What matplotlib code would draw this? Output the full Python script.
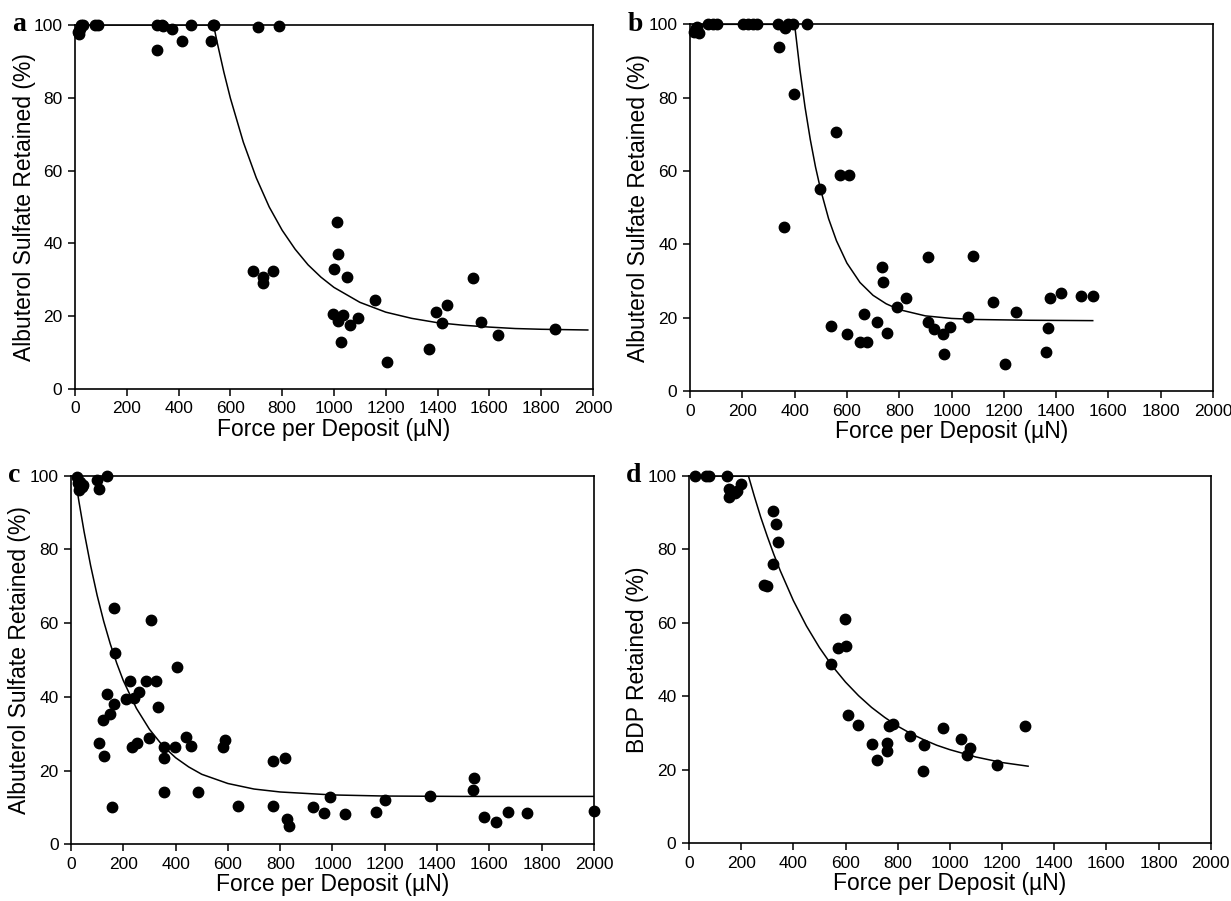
import numpy as np
import matplotlib
matplotlib.use("Agg")
import matplotlib.pyplot as plt

plt.rcParams['font.family'] = ['Liberation Sans', 'DejaVu Sans']

# ---- panel a : albuterol sulfate ----
a_x = [10, 15, 20, 25, 30, 77, 90, 318, 318, 335, 341, 376, 412, 448, 524, 532, 538,
       708, 789, 686, 727, 727, 763,
       1013, 1015, 1000, 1049, 1160, 997, 1015, 1036, 1062, 1094, 1026, 1203,
       1365, 1395, 1436, 1419, 1538, 1568, 1632, 1853]
a_y = [98, 97.5, 99, 100, 100, 100, 100, 93.1, 100, 100, 99.6, 98.9, 95.7, 100, 95.7, 100, 100,
       99.4, 99.7, 32.5, 30.7, 29.2, 32.5,
       45.8, 37.0, 32.9, 30.8, 24.5, 20.6, 18.8, 20.3, 17.6, 19.4, 13.0, 7.5,
       10.9, 21.1, 23.1, 18.0, 30.6, 18.5, 14.7, 16.4]
a_fit_x = [10, 535, 550, 575, 600, 650, 700, 750, 800, 850, 900, 950, 1000, 1100, 1200,
           1300, 1400, 1500, 1600, 1700, 1800, 1980]
a_fit_y = [100, 100, 94.9, 87.0, 79.9, 67.8, 58.0, 50.0, 43.6, 38.4, 34.1, 30.7, 27.9, 23.8,
           21.1, 19.4, 18.2, 17.5, 17.0, 16.6, 16.4, 16.2]

# ---- panel b : albuterol sulfate ----
b_x = [15, 25, 36, 23, 70, 89, 102, 204, 223, 242, 257, 338, 363, 376, 395, 446,
       341, 397, 558, 573, 609, 497, 360, 735, 739, 911, 790, 825, 538, 599, 666,
       652, 675, 717, 752, 911, 934,
       1083, 967, 994, 971, 1064, 1158, 1245, 1203, 1363, 1369, 1378, 1417, 1496, 1541]
b_y = [98, 99.4, 97.5, 99, 100, 100, 100, 100, 100, 100, 100, 100, 98.9, 100, 100, 100,
       93.7, 81, 70.7, 58.9, 58.9, 55.1, 44.8, 33.7, 29.8, 36.5, 23, 25.3, 17.8, 15.5, 21,
       13.3, 13.5, 18.9, 15.7, 18.7, 16.8,
       36.7, 15.5, 17.5, 10, 20.1, 24.4, 21.5, 7.5, 10.7, 17.1, 25.3, 26.8, 26, 26]
b_fit_x = [10, 400, 420, 440, 460, 480, 500, 530, 560, 600, 650, 700, 750, 800, 900,
           1000, 1100, 1300, 1540]
b_fit_y = [100, 100, 87.8, 77.4, 68.6, 61.1, 54.8, 47.0, 41.0, 34.9, 29.6, 26.1, 23.8,
           22.2, 20.5, 19.8, 19.5, 19.3, 19.2]

# ---- panel c : albuterol sulfate ----
c_x = [24, 35, 41, 32, 45, 28, 99, 108, 137, 163, 306, 169, 406, 227, 287, 325, 137,
       210, 239, 259, 163, 150, 124, 333, 108, 128, 300, 233, 252, 355, 355, 396, 438,
       457, 588, 582, 355, 156, 486, 639, 774, 818, 774, 826, 835, 927,
       968, 991, 1047, 1165, 1199, 1372, 1540, 1537, 1578, 1626, 1671, 1743, 2000]
c_y = [99.7, 98.4, 97, 96.1, 97.5, 98, 98.8, 96.3, 100, 64, 60.9, 52, 48.2, 44.3, 44.3,
       44.3, 40.7, 39.3, 39.6, 41.2, 38.1, 35.3, 33.7, 37.3, 27.4, 24, 28.8, 26.3, 27.6,
       26.5, 23.3, 26.5, 29.2, 26.8, 28.3, 26.5, 14.3, 10.2, 14.1, 10.5, 22.6, 23.3, 10.5,
       6.9, 5.0, 10.0,
       8.4, 12.9, 8.1, 8.9, 12.0, 13.1, 17.9, 14.7, 7.3, 6.1, 8.9, 8.4, 9.1]
c_fit_x = [15, 30, 50, 75, 100, 125, 150, 175, 200, 250, 300, 350, 400, 450, 500, 600,
           700, 800, 1000, 1200, 1500, 2000]
c_fit_y = [100, 93.1, 84.8, 75.6, 67.5, 60.5, 54.4, 49.1, 44.4, 36.9, 31.2, 26.8, 23.5,
           21.0, 19.0, 16.5, 15.0, 14.2, 13.4, 13.1, 13.0, 13.0]

# ---- panel d : BDP ----
d_x = [23, 66, 75, 145, 154, 155, 177, 184, 199, 322, 335, 341, 321, 289, 299, 597,
       601, 571, 543, 610, 649, 703, 719, 761, 761, 768, 784, 849, 902, 899,
       974, 1041, 1077, 1066, 1181, 1290]
d_y = [100, 100, 100, 100, 96.4, 94.2, 95.3, 96, 97.7, 90.5, 86.8, 81.9, 76, 70.3, 70.1,
       61, 53.7, 53.3, 48.8, 34.9, 32.2, 27, 22.7, 27.3, 25.2, 32, 32.5, 29.3, 26.9, 19.8,
       31.3, 28.3, 25.9, 24, 21.3, 32]
d_fit_x = [10, 228, 250, 275, 300, 325, 350, 400, 450, 500, 550, 600, 650, 700, 750,
           800, 850, 900, 950, 1000, 1100, 1200, 1300]
d_fit_y = [100, 100, 94.6, 88.8, 83.6, 78.7, 74.2, 66.1, 59.2, 53.3, 48.2, 43.9, 40.2,
           37.0, 34.3, 31.9, 29.9, 28.2, 26.7, 25.5, 23.5, 22.0, 21.0]

panels = [
    ("a", "Albuterol Sulfate Retained (%)", a_x, a_y, a_fit_x, a_fit_y, [0.0609, 0.5683, 0.4208, 0.4040]),
    ("b", "Albuterol Sulfate Retained (%)", b_x, b_y, b_fit_x, b_fit_y, [0.5605, 0.5660, 0.4249, 0.4070]),
    ("c", "Albuterol Sulfate Retained (%)", c_x, c_y, c_fit_x, c_fit_y, [0.0577, 0.0629, 0.4248, 0.4091]),
    ("d", "BDP Retained (%)", d_x, d_y, d_fit_x, d_fit_y, [0.5597, 0.0640, 0.4238, 0.4077]),
]

fig = plt.figure(figsize=(12.31, 9.01), dpi=100)

for letter, ylab, x, y, fx, fy, rect in panels:
    ax = fig.add_axes(rect)
    ax.plot(fx, fy, color="black", linewidth=1.1, zorder=2)
    ax.plot(x, y, "o", color="black", markersize=7.5, zorder=3, clip_on=False)
    ax.set_xlim(0, 2000)
    ax.set_ylim(0, 100)
    ax.set_xticks(np.arange(0, 2001, 200))
    ax.set_yticks(np.arange(0, 101, 20))
    ax.tick_params(direction="out", length=5, width=1.1, labelsize=12.5, pad=4)
    for s in ax.spines.values():
        s.set_linewidth(1.2)
    ax.set_xlabel("Force per Deposit (\u00b5N)", fontsize=16.5, labelpad=1)
    ax.set_ylabel(ylab, fontsize=16.5)
    ax.yaxis.set_label_coords(-0.076, 0.5)
    fig.text(rect[0] - 0.051, rect[1] + rect[3], letter, fontsize=20, fontweight="bold",
             family=["Liberation Serif", "DejaVu Serif"], ha="left", va="center")

fig.savefig("out.png", dpi=100)
